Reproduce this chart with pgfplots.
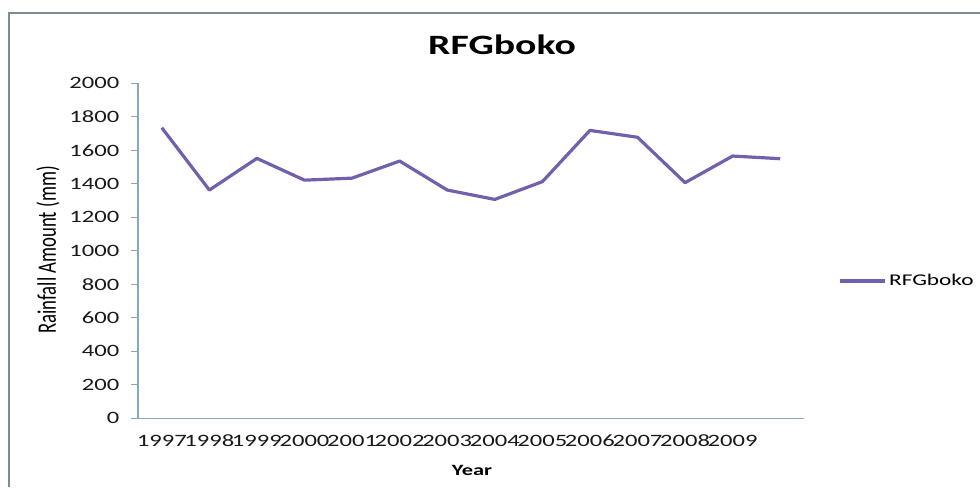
\documentclass[border=0pt]{standalone}
\usepackage{pgfplots}
\pgfplotsset{compat=1.18}
\usepackage{fontspec}
\setmainfont{Carlito}[FakeStretch=1.42]
\newfontfamily\ylabfont{Carlito}[FakeStretch=0.704]
\definecolor{serie}{RGB}{114,96,172}
\definecolor{axcol}{RGB}{135,170,185}
\definecolor{framecol}{RGB}{125,140,145}
\begin{document}
\begin{tikzpicture}
\path[use as bounding box] (0,0) rectangle (735pt,365.25pt);
\draw[framecol, line width=1.1pt] (6.75pt,0pt) -- (6.75pt,355.5pt) -- (736pt,355.5pt);
\begin{axis}[
  at={(103.5pt,51.5pt)}, anchor=south west,
  scale only axis, width=499.5pt, height=251.25pt,
  xmin=0.5, xmax=14.5, ymin=0, ymax=2000,
  enlargelimits=false,
  axis x line*=bottom, axis y line*=left,
  axis line style={axcol, line width=0.8pt},
  tick align=outside,
  major tick length=5pt, minor tick length=5pt,
  xtick={1,...,14},
  xticklabels={1997,1998,1999,2000,2001,2002,2003,2004,2005,2006,2007,2008,2009,{}},
  xtick style={draw=none},
  minor xtick={0.5,1.5,...,14.5},
  minor x tick style={axcol, line width=0.8pt},
  ytick={0,200,...,2000},
  ytick style={axcol, line width=0.8pt},
  /pgf/number format/assume math mode=true,
  /pgf/number format/1000 sep={},
  tick label style={font=\fontsize{13pt}{15pt}\selectfont, text=black!90},
  yticklabel style={xshift=-5.5pt},
  xticklabel style={yshift=-4pt},
  legend style={draw=none, fill=none, at={(1.051,0.41)}, anchor=west,
    inner xsep=0pt, font=\fontsize{12.3pt}{14pt}\selectfont},
  legend image code/.code={\draw[#1] (0pt,0pt) -- (33.75pt,0pt);},
  legend cell align=left,
]
\addplot[serie, line width=2.4pt, line join=round] coordinates {
 (1,1735) (2,1363) (3,1552) (4,1422) (5,1434) (6,1536) (7,1363)
 (8,1307) (9,1413) (10,1719) (11,1678) (12,1407) (13,1566) (14,1550)
};
\addlegendentry{RFGboko}
\end{axis}
\node[anchor=base, font=\bfseries\fontsize{21pt}{24pt}\selectfont] at (376.5pt,324.75pt) {RFGboko};
\node[rotate=90, font=\ylabfont\fontsize{20pt}{22pt}\selectfont] at (36pt,177.75pt) {Rainfall Amount (mm)};
\node[anchor=base, font=\bfseries\fontsize{11.8pt}{14pt}\selectfont] at (354pt,9pt) {Year};
\end{tikzpicture}
\end{document}
